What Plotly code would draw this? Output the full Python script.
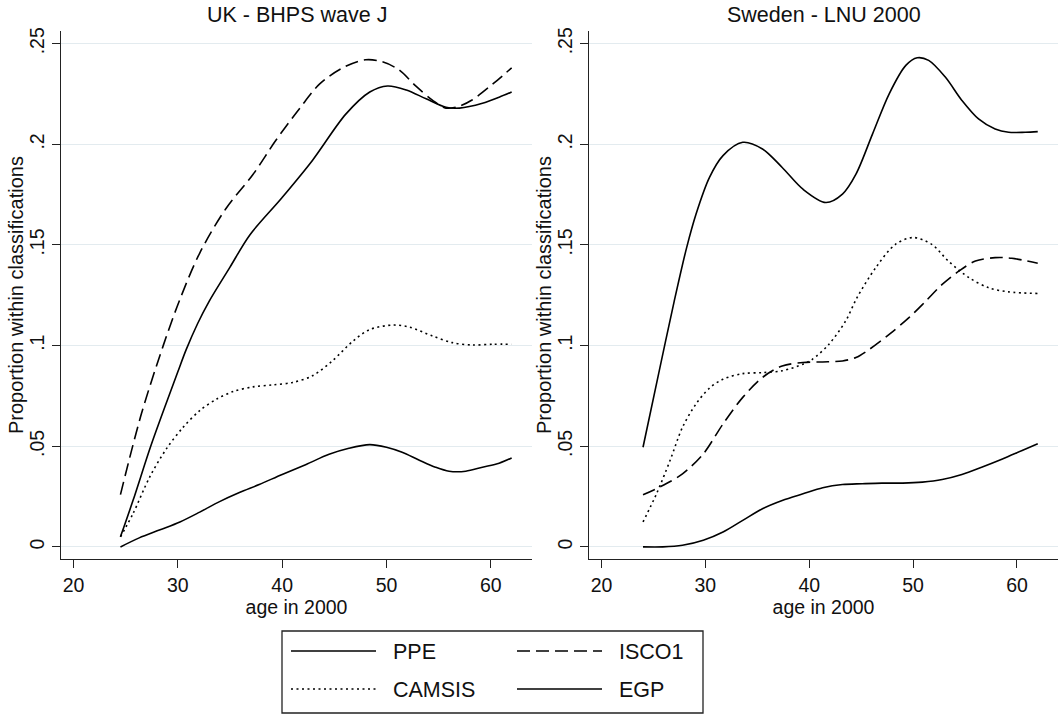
import plotly.graph_objects as go
from plotly.subplots import make_subplots

# ---------------- data ----------------
panel_titles = ["UK - BHPS wave J", "Sweden - LNU 2000"]
series_names = ["PPE", "ISCO1", "CAMSIS", "EGP"]

# UK - BHPS wave J
uk_ppe_age = [24.5, 25.7, 27.4, 29.0, 30.0, 30.8, 31.9, 33.0, 35.0, 36.9, 40.0, 42.9, 46.1, 48.4, 50.1, 51.9, 53.8, 55.7, 57.0, 59.2, 60.8, 62.0]
uk_ppe_val = [0.005, 0.023, 0.050, 0.073, 0.087, 0.098, 0.111, 0.122, 0.139, 0.155, 0.1736, 0.192, 0.215, 0.226, 0.229, 0.227, 0.2226, 0.2184, 0.218, 0.2204, 0.2234, 0.226]

uk_isco_age = [24.5, 26.5, 28.6, 30.2, 32.1, 34.6, 37.2, 39.4, 41.7, 43.6, 45.8, 48.0, 49.6, 51.2, 52.8, 54.4, 55.7, 57.0, 58.2, 60.2, 62.0]
uk_isco_val = [0.026, 0.066, 0.100, 0.123, 0.146, 0.168, 0.185, 0.202, 0.218, 0.230, 0.238, 0.242, 0.241, 0.237, 0.229, 0.222, 0.218, 0.219, 0.222, 0.230, 0.238]

uk_cam_age = [24.5, 25.7, 27.3, 28.9, 30.5, 32.1, 33.7, 35.3, 37.2, 39.1, 41.0, 42.9, 44.8, 46.8, 48.4, 50.6, 52.2, 54.4, 56.3, 58.2, 60.2, 62.0]
uk_cam_val = [0.005, 0.0165, 0.0347, 0.0487, 0.0594, 0.0677, 0.0734, 0.0772, 0.0795, 0.0805, 0.0817, 0.085, 0.0924, 0.1023, 0.108, 0.1102, 0.1092, 0.1048, 0.1015, 0.1003, 0.1007, 0.1007]

uk_egp_age = [24.5, 26.3, 28.3, 30.2, 32.1, 34.0, 35.9, 37.8, 40.0, 42.3, 44.5, 46.4, 48.4, 50.0, 51.5, 53.1, 54.7, 56.0, 57.6, 59.2, 60.8, 62.0]
uk_egp_val = [0.0, 0.0045, 0.0085, 0.0124, 0.0173, 0.0225, 0.027, 0.031, 0.036, 0.041, 0.046, 0.049, 0.0508, 0.0495, 0.047, 0.0432, 0.0396, 0.0376, 0.0376, 0.0396, 0.0416, 0.0442]

# Sweden - LNU 2000
se_ppe_age = [24.0, 25.5, 27.0, 28.2, 29.1, 30.4, 31.7, 33.6, 35.5, 37.4, 39.4, 41.6, 43.2, 44.5, 46.1, 47.7, 49.3, 50.4, 51.5, 53.1, 54.7, 56.3, 57.9, 59.2, 60.8, 62.0]
se_ppe_val = [0.0495, 0.086, 0.122, 0.1487, 0.1653, 0.1836, 0.1944, 0.201, 0.1977, 0.1885, 0.1777, 0.1711, 0.1753, 0.1852, 0.2052, 0.2251, 0.2392, 0.243, 0.2417, 0.2334, 0.2218, 0.2126, 0.2076, 0.206, 0.206, 0.2063]

se_isco_age = [24.0, 25.9, 27.8, 29.8, 31.7, 33.6, 35.5, 37.4, 39.4, 41.3, 43.2, 44.5, 45.8, 47.7, 49.6, 51.2, 52.8, 54.4, 56.0, 57.9, 59.5, 62.0]
se_isco_val = [0.0259, 0.0305, 0.0363, 0.0462, 0.0611, 0.0743, 0.0842, 0.0899, 0.0916, 0.0919, 0.0924, 0.0941, 0.0982, 0.1056, 0.1139, 0.122, 0.1304, 0.137, 0.142, 0.1437, 0.1434, 0.1409]

se_cam_age = [24.0, 25.3, 26.6, 27.8, 29.1, 30.4, 31.7, 33.6, 35.5, 37.4, 39.4, 40.3, 41.9, 43.5, 44.6, 46.4, 48.3, 50.0, 51.8, 53.4, 55.4, 57.3, 59.2, 62.0]
se_cam_val = [0.0124, 0.0264, 0.0429, 0.0594, 0.071, 0.0789, 0.0833, 0.0861, 0.0866, 0.0875, 0.0908, 0.0932, 0.1007, 0.1122, 0.1238, 0.1387, 0.1503, 0.1537, 0.1503, 0.142, 0.1337, 0.1287, 0.1267, 0.1259]

se_egp_age = [24.0, 25.9, 27.8, 29.8, 31.7, 33.6, 35.5, 37.4, 39.4, 41.3, 43.2, 45.1, 47.0, 49.0, 50.9, 52.8, 54.7, 56.6, 58.6, 60.5, 62.0]
se_egp_val = [0.0, 0.0, 0.0008, 0.0033, 0.0074, 0.0132, 0.019, 0.0231, 0.0264, 0.0294, 0.031, 0.0314, 0.0317, 0.0317, 0.0322, 0.0335, 0.036, 0.0396, 0.0437, 0.0479, 0.0512]

x_tick_vals = [20, 30, 40, 50, 60]
x_tick_text = ["20", "30", "40", "50", "60"]
y_tick_vals = [0, 0.05, 0.1, 0.15, 0.2, 0.25]
y_tick_text = ["0", ".05", ".1", ".15", ".2", ".25"]

x_axis_title = "age in 2000"
y_axis_title = "Proportion within classifications"

# ---------------- figure ----------------
FONT = "Liberation Sans, Arial, sans-serif"
DASH = {"PPE": "solid", "ISCO1": "13px,6px", "CAMSIS": "2px,3.5px", "EGP": "solid"}
LEGEND_OF = {"PPE": "legend", "ISCO1": "legend", "CAMSIS": "legend2", "EGP": "legend2"}
PAD = "\u00a0\u00a0"  # small gap between legend sample and label

panels = [
    {"PPE": (uk_ppe_age, uk_ppe_val), "ISCO1": (uk_isco_age, uk_isco_val),
     "CAMSIS": (uk_cam_age, uk_cam_val), "EGP": (uk_egp_age, uk_egp_val)},
    {"PPE": (se_ppe_age, se_ppe_val), "ISCO1": (se_isco_age, se_isco_val),
     "CAMSIS": (se_cam_age, se_cam_val), "EGP": (se_egp_age, se_egp_val)},
]

fig = make_subplots(rows=1, cols=2)

for ci, panel in enumerate(panels):
    for name in series_names:
        xs, ys = panel[name]
        fig.add_trace(go.Scatter(
            x=xs, y=ys, mode="lines", name=PAD + name, legendgroup=name,
            showlegend=(ci == 0), legend=LEGEND_OF[name],
            line=dict(color="black", width=1.6, dash=DASH[name], shape="spline", smoothing=0.9),
            hoverinfo="skip",
        ), row=1, col=ci + 1)

W, H = 1061, 715
dom_x = [[61 / W, 532 / W], [589 / W, 1058 / W]]
dom_y = [1 - 559 / H, 1 - 31 / H]

for ci in range(2):
    xa = "xaxis" if ci == 0 else "xaxis2"
    ya = "yaxis" if ci == 0 else "yaxis2"
    fig.layout[xa].update(
        domain=dom_x[ci], range=[18.8, 63.95], tickvals=x_tick_vals, ticktext=x_tick_text,
        showgrid=False, zeroline=False, showline=True, linecolor="#222", linewidth=1.3,
        ticks="outside", ticklen=8, tickwidth=1.3, tickcolor="#222", automargin=False,
        tickfont=dict(family=FONT, size=19.5, color="#111"),
        title=dict(text=x_axis_title, font=dict(family=FONT, size=19.5, color="#111"), standoff=2),
    )
    fig.layout[ya].update(
        domain=dom_y, range=[-0.006, 0.2563], tickvals=y_tick_vals, ticktext=y_tick_text,
        showgrid=True, gridcolor="#e3ebef", gridwidth=1.3, zeroline=False, automargin=False,
        showline=True, linecolor="#222", linewidth=1.3,
        ticks="outside", ticklen=8, tickwidth=1.3, tickcolor="#222", tickangle=-90,
        tickfont=dict(family=FONT, size=19.5, color="#111"),
    )
    # y axis title, placed precisely
    fig.add_annotation(
        text=y_axis_title, xref="paper", yref="paper",
        x=(dom_x[ci][0] * W - 45) / W, y=(dom_y[0] + dom_y[1]) / 2,
        xanchor="center", yanchor="middle", textangle=-90, showarrow=False,
        font=dict(family=FONT, size=20, color="#111"),
    )
    fig.add_annotation(
        text=panel_titles[ci], xref="paper", yref="paper",
        x=(dom_x[ci][0] + dom_x[ci][1]) / 2, y=1 - 15 / H,
        xanchor="center", yanchor="middle", showarrow=False,
        font=dict(family=FONT, size=21.5, color="#111"),
    )

# legend frame
fig.add_shape(type="rect", xref="paper", yref="paper",
              x0=282 / W, x1=703 / W, y0=1 - 713 / H, y1=1 - 631 / H,
              line=dict(color="#222", width=1.3), fillcolor="rgba(0,0,0,0)")

legend_common = dict(
    orientation="h", xref="container", yref="container", xanchor="left", yanchor="middle",
    entrywidth=126, itemwidth=85, borderwidth=0, bgcolor="rgba(0,0,0,0)",
    font=dict(family=FONT, size=21.5, color="#111"), traceorder="normal",
)

fig.update_layout(
    width=W, height=H, margin=dict(l=0, r=0, t=0, b=0, autoexpand=False),
    paper_bgcolor="white", plot_bgcolor="white",
    showlegend=True,
    legend=dict(x=286 / W, y=1 - 651 / H, **legend_common),
    legend2=dict(x=286 / W, y=1 - 689 / H, **legend_common),
)

fig.write_html("out.html", config={"displayModeBar": False},
               post_script="document.body.style.margin='0';")
